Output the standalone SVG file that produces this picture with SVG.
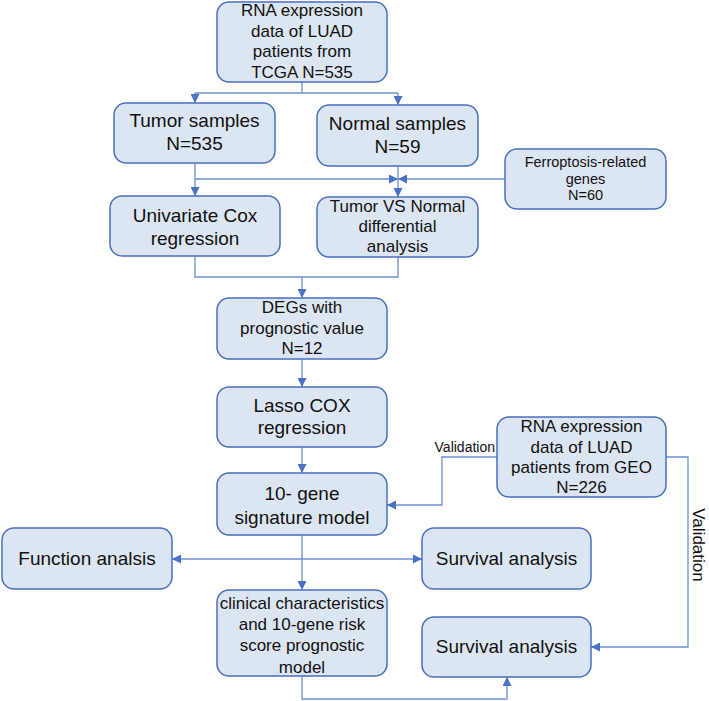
<svg xmlns="http://www.w3.org/2000/svg" width="709" height="701" viewBox="0 0 709 701">
<style>
.box{fill:#dce6f2;stroke:#4a6fbd;stroke-width:1.5}
.t{font-family:"Liberation Sans",Arial,sans-serif;fill:#111;text-anchor:middle}
.f17{font-size:17px}
.f19{font-size:19px}
.f14{font-size:14.5px}
.ln{fill:none;stroke:#6d8fd2;stroke-width:1.3}
</style>
<defs>
<marker id="ah" viewBox="0 0 10 10" refX="10" refY="5" markerWidth="9" markerHeight="9" markerUnits="userSpaceOnUse" orient="auto">
<path d="M0,0 L10,5 L0,10 z" fill="#4a72c4"/>
</marker>
<marker id="as" viewBox="0 0 10 10" refX="0" refY="5" markerWidth="9" markerHeight="9" markerUnits="userSpaceOnUse" orient="auto">
<path d="M10,0 L0,5 L10,10 z" fill="#4a72c4"/>
</marker>
</defs>
<rect width="709" height="701" fill="#ffffff"/>
<g id="connectors">
<path class="ln" d="M302,82 V93"/>
<path class="ln" d="M195,93 H398"/>
<path class="ln" d="M195,93 V103" marker-end="url(#ah)"/>
<path class="ln" d="M398,93 V105" marker-end="url(#ah)"/>
<path class="ln" d="M195,163 V196" marker-end="url(#ah)"/>
<path class="ln" d="M195,179 H398" marker-end="url(#ah)"/>
<path class="ln" d="M505,179 H398" marker-end="url(#ah)"/>
<path class="ln" d="M398,166 V197" marker-end="url(#ah)"/>
<path class="ln" d="M195,256 V277 H398 V257"/>
<path class="ln" d="M302,277 V298" marker-end="url(#ah)"/>
<path class="ln" d="M302,359 V387" marker-end="url(#ah)"/>
<path class="ln" d="M302,447 V473" marker-end="url(#ah)"/>
<path class="ln" d="M497,457 H442 V505 H387" marker-end="url(#ah)"/>
<path class="ln" d="M302,535 V590" marker-end="url(#ah)"/>
<path class="ln" d="M172,559 H422" marker-start="url(#as)" marker-end="url(#ah)"/>
<path class="ln" d="M666,457 H688 V647 H591" marker-end="url(#ah)"/>
<path class="ln" d="M302,676 V699 H507 V677" marker-end="url(#ah)"/>
<text class="t" x="495" y="452" style="font-size:14px;text-anchor:end">Validation</text>
<text class="t f17" transform="translate(693,545) rotate(90)" x="0" y="0">Validation</text>
</g>
<g id="n_tcga">
<rect class="box" x="217" y="2" width="170" height="80" rx="12"/>
<text class="t f17" x="302" y="16">RNA expression</text>
<text class="t f17" x="302" y="36.5">data of LUAD</text>
<text class="t f17" x="302" y="57">patients from</text>
<text class="t f17" x="302" y="77.5">TCGA N=535</text>
</g>
<g id="n_tumor">
<rect class="box" x="114" y="103" width="161" height="60" rx="12"/>
<text class="t f19" x="194.5" y="127">Tumor samples</text>
<text class="t f19" x="194.5" y="150">N=535</text>
</g>
<g id="n_normal">
<rect class="box" x="317" y="105" width="161" height="61" rx="12"/>
<text class="t f19" x="397.5" y="130">Normal samples</text>
<text class="t f19" x="397.5" y="153">N=59</text>
</g>
<g id="n_ferro">
<rect class="box" x="505" y="149" width="161" height="60" rx="12"/>
<text class="t f14" x="585.5" y="167">Ferroptosis-related</text>
<text class="t f14" x="585.5" y="183.5">genes</text>
<text class="t f14" x="585.5" y="200">N=60</text>
</g>
<g id="n_unicox">
<rect class="box" x="110" y="196" width="170" height="60" rx="12"/>
<text class="t f19" x="195" y="222">Univariate Cox</text>
<text class="t f19" x="195" y="245">regression</text>
</g>
<g id="n_diff">
<rect class="box" x="317" y="197" width="161" height="60" rx="12"/>
<text class="t f17" x="397.5" y="212">Tumor VS Normal</text>
<text class="t f17" x="397.5" y="232">differential</text>
<text class="t f17" x="397.5" y="252">analysis</text>
</g>
<g id="n_degs">
<rect class="box" x="217" y="298" width="170" height="61" rx="12"/>
<text class="t f17" x="302" y="313">DEGs with</text>
<text class="t f17" x="302" y="334">prognostic value</text>
<text class="t f17" x="302" y="354">N=12</text>
</g>
<g id="n_lasso">
<rect class="box" x="217" y="387" width="170" height="60" rx="12"/>
<text class="t f19" x="302" y="412">Lasso COX</text>
<text class="t f19" x="302" y="434">regression</text>
</g>
<g id="n_geo">
<rect class="box" x="497" y="417" width="169" height="80" rx="12"/>
<text class="t f17" x="581.5" y="432">RNA expression</text>
<text class="t f17" x="581.5" y="453">data of LUAD</text>
<text class="t f17" x="581.5" y="473">patients from GEO</text>
<text class="t f17" x="581.5" y="493">N=226</text>
</g>
<g id="n_model">
<rect class="box" x="217" y="473" width="170" height="62" rx="12"/>
<text class="t f19" x="302" y="500">10- gene</text>
<text class="t f19" x="302" y="524">signature model</text>
</g>
<g id="n_function">
<rect class="box" x="2" y="528" width="170" height="61" rx="12"/>
<text class="t f19" x="87" y="565">Function analsis</text>
</g>
<g id="n_surv1">
<rect class="box" x="422" y="528" width="169" height="61" rx="12"/>
<text class="t f19" x="506.5" y="565">Survival analysis</text>
</g>
<g id="n_clinical">
<rect class="box" x="217" y="590" width="170" height="86" rx="12"/>
<text class="t f17" x="302" y="609">clinical characteristics</text>
<text class="t f17" x="302" y="630">and 10-gene risk</text>
<text class="t f17" x="302" y="651">score prognostic</text>
<text class="t f17" x="302" y="673">model</text>
</g>
<g id="n_surv2">
<rect class="box" x="422" y="617" width="169" height="60" rx="12"/>
<text class="t f19" x="506.5" y="653">Survival analysis</text>
</g>
</svg>
